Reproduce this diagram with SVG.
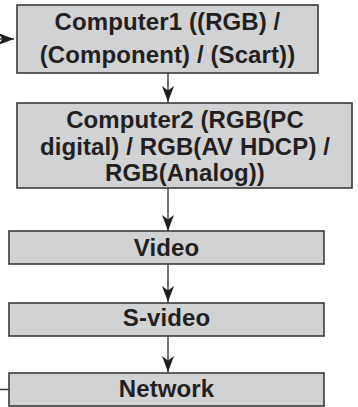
<svg xmlns="http://www.w3.org/2000/svg" width="358" height="407" viewBox="0 0 358 407">
<defs>
<style>
.box{fill:#d1d2d4;stroke:#3a3a3a;stroke-width:1.6}
.lbl{font-family:"Liberation Sans",Arial,sans-serif;font-weight:bold;font-size:24px;letter-spacing:0.1px;fill:#231f20;text-anchor:middle}
.con{fill:none;stroke:#3a3a3a;stroke-width:1.4}
</style>
<marker id="ah" markerUnits="userSpaceOnUse" markerWidth="18" markerHeight="14" viewBox="-17 -7 17 14" refX="0" refY="0" orient="auto">
<path d="M0,0 L-16,-6 L-11.5,0 L-16,6 Z" fill="#231f20"/>
</marker>
</defs>
<rect width="358" height="407" fill="#ffffff"/>
<g id="connectors">
<path class="con" d="M168,73 V102" marker-end="url(#ah)"/>
<path class="con" d="M168,188 V231" marker-end="url(#ah)"/>
<path class="con" d="M168,264 V302" marker-end="url(#ah)"/>
<path class="con" d="M168,336 V372" marker-end="url(#ah)"/>
<path class="con" d="M9,389.5 H-5 V39 H14" marker-end="url(#ah)"/>
</g>
<g id="computer1">
<rect class="box" x="17" y="5" width="301" height="68"/>
<text class="lbl" x="167.5" y="30">Computer1 ((RGB) /</text>
<text class="lbl" x="167.5" y="63">(Component) / (Scart))</text>
</g>
<g id="computer2">
<rect class="box" x="17" y="103" width="335" height="85"/>
<text class="lbl" x="185" y="128">Computer2 (RGB(PC</text>
<text class="lbl" x="185" y="155">digital) / RGB(AV HDCP) /</text>
<text class="lbl" x="185" y="181">RGB(Analog))</text>
</g>
<g id="video">
<rect class="box" x="9" y="231" width="315" height="33"/>
<text class="lbl" x="166.5" y="256">Video</text>
</g>
<g id="svideo">
<rect class="box" x="9" y="303" width="315" height="33"/>
<text class="lbl" x="166.5" y="326">S-video</text>
</g>
<g id="network">
<rect class="box" x="9" y="373" width="315" height="33"/>
<text class="lbl" x="166.5" y="397">Network</text>
</g>
</svg>
